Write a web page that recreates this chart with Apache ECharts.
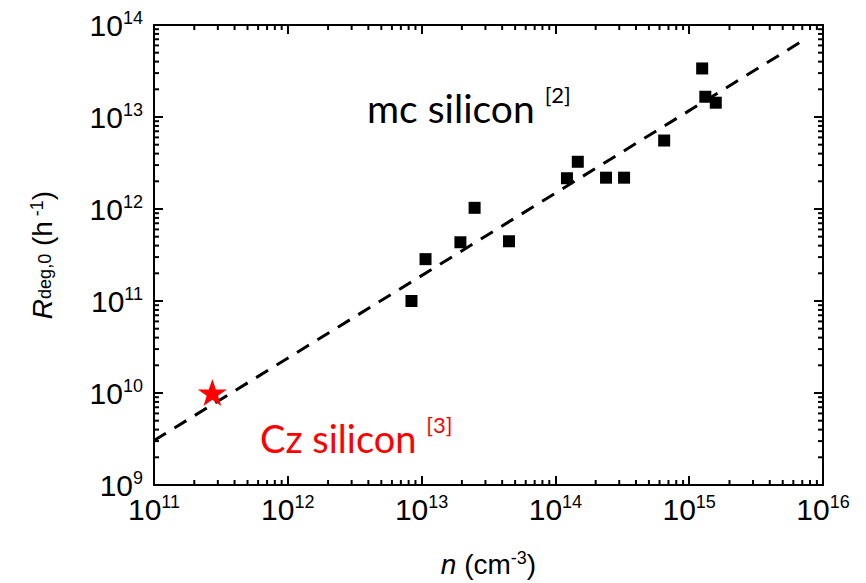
<!DOCTYPE html>
<html>
<head>
<meta charset="utf-8">
<script src="https://cdn.jsdelivr.net/npm/echarts@6/dist/echarts.min.js"></script>
<style>
  html, body { margin: 0; padding: 0; background: #fff; }
  #chart { width: 866px; height: 583px; }
</style>
</head>
<body>
<div id="chart"></div>
<script>
// Multicrystalline silicon: density n (cm^-3) vs. degradation rate R_deg,0 (h^-1)
const mcDensity = [8.4e12, 1.07e13, 1.95e13, 2.49e13, 4.5e13, 1.22e14, 1.47e14, 2.39e14, 3.26e14, 6.5e14, 1.25e15, 1.32e15, 1.58e15];
const mcRate    = [1.0e11, 2.85e11, 4.35e11, 1.03e12, 4.46e11, 2.16e12, 3.26e12, 2.19e12, 2.19e12, 5.55e12, 3.37e13, 1.66e13, 1.43e13];

// Czochralski silicon reference point
const czDensity = [2.73e11];
const czRate    = [1.01e10];

// Power-law fit (straight line on log-log axes)
const fitDensity = [1e11, 7.55e15];
const fitRate    = [3.04e9, 7.18e13];

// Decade tick values and their exponents (labels read "10^exp")
const xTickValues = [1e11, 1e12, 1e13, 1e14, 1e15, 1e16];
const xTickExp    = ['11', '12', '13', '14', '15', '16'];
const yTickValues = [1e9, 1e10, 1e11, 1e12, 1e13, 1e14];
const yTickExp    = ['9', '10', '11', '12', '13', '14'];

// Axis ranges and minor tick multipliers
const xRange = [1e11, 1e16];
const yRange = [1e9, 1e14];
const minorSteps = [2, 3, 4, 5, 6, 7, 8, 9];

function decadeMinors(range) {
  const out = [];
  for (let d = range[0]; d < range[1]; d *= 10) {
    minorSteps.forEach(m => out.push(d * m));
  }
  return out;
}
const xMinor = decadeMinors(xRange);
const yMinor = decadeMinors(yRange);

const AXIS_FONT = 'Liberation Sans';
const NOTE_FONT = 'Lato';

const tickRich = {
  base: { fontFamily: AXIS_FONT, fontSize: 30, fill: '#000', lineHeight: 32, verticalAlign: 'middle' },
  exp:  { fontFamily: AXIS_FONT, fontSize: 18, fill: '#000', lineHeight: 8, verticalAlign: 'top' }
};

function mainAxisX() {
  return {
    type: 'log', logBase: 10, min: xRange[0], max: xRange[1], position: 'bottom',
    axisLine: { lineStyle: { color: '#000', width: 2 } },
    axisTick: { inside: true, length: 9, lineStyle: { color: '#000', width: 2 } },
    axisLabel: { show: false },
    splitLine: { show: false },
    name: '{i|n}{n| (cm}{sup|-3}{n|)}',
    nameLocation: 'middle', nameGap: 64,
    nameTextStyle: {
      rich: {
        i: { fontFamily: AXIS_FONT, fontSize: 28, fontStyle: 'italic', color: '#000', lineHeight: 30, verticalAlign: 'middle' },
        n: { fontFamily: AXIS_FONT, fontSize: 28, color: '#000', lineHeight: 30, verticalAlign: 'middle' },
        sup: { fontFamily: AXIS_FONT, fontSize: 18, color: '#000', lineHeight: 10, verticalAlign: 'top' }
      }
    }
  };
}

function mainAxisY() {
  return {
    type: 'log', logBase: 10, min: yRange[0], max: yRange[1], position: 'left',
    axisLine: { lineStyle: { color: '#000', width: 2 } },
    axisTick: { inside: true, length: 9, lineStyle: { color: '#000', width: 2 } },
    axisLabel: { show: false },
    splitLine: { show: false },
    name: '{i|R}{sub|deg,0}{n| (h}{sup| -1}{n|)}',
    nameLocation: 'middle', nameGap: 96, nameRotate: 90,
    nameTextStyle: {
      rich: {
        i: { fontFamily: AXIS_FONT, fontSize: 28, fontStyle: 'italic', color: '#000', lineHeight: 30, verticalAlign: 'top' },
        n: { fontFamily: AXIS_FONT, fontSize: 28, color: '#000', lineHeight: 30, verticalAlign: 'top' },
        sub: { fontFamily: AXIS_FONT, fontSize: 18, color: '#000', lineHeight: 20, verticalAlign: 'bottom', padding: [0, 0, 4, 0] },
        sup: { fontFamily: AXIS_FONT, fontSize: 18, color: '#000', lineHeight: 10, verticalAlign: 'top' }
      }
    }
  };
}

function frameAxis(position, range) {
  return {
    type: 'log', logBase: 10, min: range[0], max: range[1], position: position,
    axisLine: { lineStyle: { color: '#000', width: 2 } },
    axisTick: { inside: true, length: 9, lineStyle: { color: '#000', width: 2 } },
    axisLabel: { show: false },
    splitLine: { show: false }
  };
}

// Minor ticks drawn on all four frame edges, placed through the axis scales
function minorTickSeries(values, isX) {
  return {
    type: 'custom',
    silent: true,
    clip: false,
    z: 5,
    data: values.map(v => isX ? [v, yRange[0]] : [xRange[0], v]),
    renderItem: function (params, api) {
      const v = isX ? api.value(0) : api.value(1);
      const len = 5;
      const st = { stroke: '#000', lineWidth: 2 };
      let a, b;
      if (isX) {
        a = api.coord([v, yRange[0]]);
        b = api.coord([v, yRange[1]]);
        return {
          type: 'group',
          children: [
            { type: 'line', shape: { x1: a[0], y1: a[1], x2: a[0], y2: a[1] - len }, style: st },
            { type: 'line', shape: { x1: b[0], y1: b[1], x2: b[0], y2: b[1] + len }, style: st }
          ]
        };
      }
      a = api.coord([xRange[0], v]);
      b = api.coord([xRange[1], v]);
      return {
        type: 'group',
        children: [
          { type: 'line', shape: { x1: a[0], y1: a[1], x2: a[0] + len, y2: a[1] }, style: st },
          { type: 'line', shape: { x1: b[0], y1: b[1], x2: b[0] - len, y2: b[1] }, style: st }
        ]
      };
    }
  };
}

// Decade labels "10^n" placed at the tick positions given by the axis scales
function tickLabelSeries(values, exps, isX) {
  return {
    type: 'custom',
    silent: true,
    clip: false,
    z: 6,
    data: values.map((v, i) => isX ? [v, yRange[0], i] : [xRange[0], v, i]),
    renderItem: function (params, api) {
      const idx = api.value(2);
      const p = isX ? api.coord([api.value(0), yRange[0]]) : api.coord([xRange[0], api.value(1)]);
      return {
        type: 'text',
        x: isX ? p[0] : p[0] - 11,
        y: isX ? p[1] + 8 : p[1],
        style: {
          text: '{base|10}{exp|' + exps[idx] + '}',
          rich: tickRich,
          align: isX ? 'center' : 'right',
          verticalAlign: isX ? 'top' : 'middle'
        }
      };
    }
  };
}

const zip = (xs, ys) => xs.map((x, i) => [x, ys[i]]);

const chart = echarts.init(document.getElementById('chart'), null, { renderer: 'svg' });

chart.setOption({
  backgroundColor: '#fff',
  animation: false,
  grid: { left: 154, top: 25, right: 43, bottom: 95 },
  xAxis: [mainAxisX(), frameAxis('top', xRange)],
  yAxis: [mainAxisY(), frameAxis('right', yRange)],
  series: [
    {
      name: 'fit',
      type: 'line',
      data: zip(fitDensity, fitRate),
      showSymbol: false,
      symbol: 'none',
      lineStyle: { color: '#000', width: 3, type: [14, 10] },
      z: 2
    },
    {
      name: 'mc silicon',
      type: 'scatter',
      data: zip(mcDensity, mcRate),
      symbol: 'rect',
      symbolSize: 12,
      itemStyle: { color: '#000', opacity: 1 },
      z: 3
    },
    {
      name: 'Cz silicon',
      type: 'scatter',
      data: zip(czDensity, czRate),
      symbol: 'path://M50,0 L61.8,35.1 L98.1,35.1 L68.8,56.7 L79.4,91.3 L50,70 L20.6,91.3 L31.2,56.7 L1.9,35.1 L38.2,35.1 Z',
      symbolSize: [29, 27],
      itemStyle: { color: '#ff0000', opacity: 1 },
      z: 4
    },
    minorTickSeries(xMinor, true),
    minorTickSeries(yMinor, false),
    tickLabelSeries(xTickValues, xTickExp, true),
    tickLabelSeries(yTickValues, yTickExp, false)
  ],
  graphic: [
    {
      type: 'text', left: 367, top: 83, silent: true,
      style: {
        text: '{t|mc silicon }{r|[2]}',
        rich: {
          t: { fontFamily: NOTE_FONT, fontSize: 39, fill: '#000', lineHeight: 44, verticalAlign: 'bottom' },
          r: { fontFamily: NOTE_FONT, fontSize: 22, fill: '#000', lineHeight: 44, verticalAlign: 'top' }
        }
      }
    },
    {
      type: 'text', left: 260, top: 413, silent: true,
      style: {
        text: '{t|Cz silicon }{r|[3]}',
        rich: {
          t: { fontFamily: NOTE_FONT, fontSize: 38, fill: '#ff0000', lineHeight: 44, verticalAlign: 'bottom' },
          r: { fontFamily: NOTE_FONT, fontSize: 22, fill: '#ff0000', lineHeight: 44, verticalAlign: 'top' }
        }
      }
    }
  ]
});
</script>
</body>
</html>
